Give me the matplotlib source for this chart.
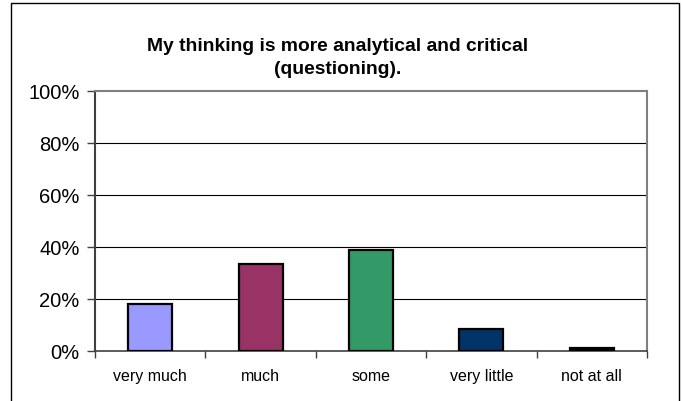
import matplotlib
matplotlib.use("Agg")
import matplotlib.pyplot as plt
from matplotlib.patches import Rectangle

categories = ["very much", "much", "some", "very little", "not at all"]
values = [18, 33.5, 39, 8.5, 1.2]
colors = ["#9999FF", "#993366", "#339966", "#003366", "#000000"]
yticks = [0, 20, 40, 60, 80, 100]
ytick_labels = ["0%", "20%", "40%", "60%", "80%", "100%"]
title = "My thinking is more analytical and critical\n(questioning)."

plt.rcParams['font.family'] = ['Liberation Sans', 'DejaVu Sans']

W, H = 682, 402
fig = plt.figure(figsize=(W / 100, H / 100), dpi=100)
ax = fig.add_axes([95 / W, 1 - 352 / H, (647 - 95) / W, (352 - 92) / H])

x = list(range(len(categories)))
ax.bar(x, values, width=0.4, color=colors, edgecolor="black", linewidth=1.6, zorder=3)

ax.set_xlim(-0.5, len(categories) - 0.5)
ax.set_ylim(0, 100)
ax.set_yticks(yticks)
ax.set_yticklabels(ytick_labels, fontsize=14.5)
ax.set_xticks(x)
ax.set_xticklabels(categories, fontsize=11.5)
ax.tick_params(axis='x', length=0, pad=12)
ax.set_xticks([i - 0.5 for i in range(len(categories) + 1)], minor=True)
ax.tick_params(axis='x', which='minor', length=5, width=1, color="#404040", direction='out')
ax.tick_params(axis='y', length=6, width=1, color="#404040", pad=5)

for yv in yticks[1:-1]:
    ax.axhline(yv, color="black", linewidth=0.8, zorder=1)

for s in ["top", "right"]:
    ax.spines[s].set_color("#808080")
    ax.spines[s].set_linewidth(1.5)
ax.spines["left"].set_color("#404040")
ax.spines["left"].set_linewidth(1.5)
ax.spines["bottom"].set_color("#404040")
ax.spines["bottom"].set_linewidth(1.2)

fig.text(338 / W, 1 - 58 / H, title, ha="center", va="center", fontsize=13.9,
         fontweight="bold", linespacing=1.45)

frame = Rectangle((11 / W, -0.05), (679 - 11) / W, 1.05 - 4 / H,
                  transform=fig.transFigure, fill=False, edgecolor="black",
                  linewidth=1.0, clip_on=False)
fig.patches.append(frame)

fig.savefig("out.png", dpi=100)
